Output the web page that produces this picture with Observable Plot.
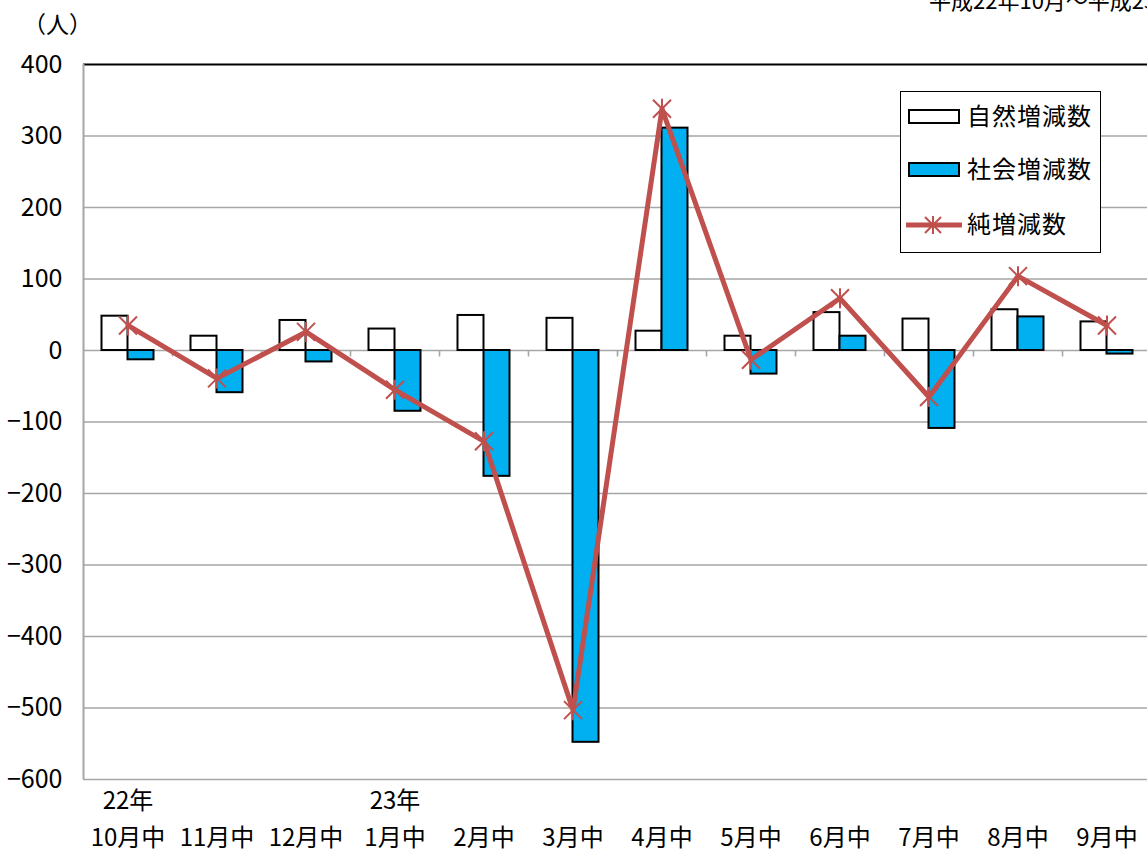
<!DOCTYPE html>
<html><head><meta charset="utf-8">
<script src="https://cdn.jsdelivr.net/npm/d3@7"></script>
<script src="https://cdn.jsdelivr.net/npm/@observablehq/plot@0.6"></script>
<style>
html,body{margin:0;padding:0;background:#fff;overflow:hidden;}
#wrap{position:relative;width:1147px;height:858px;font-family:"Liberation Sans Narrow","Noto Sans CJK JP",sans-serif;}
.abs{position:absolute;white-space:nowrap;color:#000;}
#legend{position:absolute;left:900px;top:91px;width:201px;height:162px;border:1.5px solid #000;background:#fff;box-sizing:border-box;}
.li{position:absolute;left:0;width:199px;height:26px;font-size:24px;line-height:24px;white-space:nowrap;}
</style></head><body>
<div id="wrap">
<div id="chart"></div>
<div class="abs" style="left:23px;top:6px;font-size:23px;font-family:'Noto Sans CJK JP';">（人）</div>
<div class="abs" style="left:929px;top:-17px;font-size:22px;">平成22年10月〜平成23年9月</div>
<div id="legend"></div>
</div>
<script>
const months = ["10月中","11月中","12月中","1月中","2月中","3月中","4月中","5月中","6月中","7月中","8月中","9月中"];
const years = ["22年","","","23年","","","","","","","",""];
const natural = [48,20,42,30,49,45,27,20,53,44,57,40];
const social = [-13,-59,-16,-85,-176,-548,311,-33,20,-109,47,-5];
const net = [35,-39,26,-55,-127,-503,338,-13,73,-65,104,35];
const yTicks = [400,300,200,100,0,-100,-200,-300,-400,-500,-600];
const gridTicks = [300,200,100,0,-100,-200,-300,-400,-500,-600];
const seriesNames = ["自然増減数","社会増減数","純増減数"];
const colors = {natural:"#ffffff", social:"#00B0F0", net:"#C0504D"};

const data = months.map((m,i)=>({month:m, year:years[i], natural:natural[i], social:social[i], net:net[i]}));

const star = {draw(ctx, size){
  const r = Math.sqrt(size/Math.PI);
  const a = r*0.9;
  ctx.moveTo(-a,-a); ctx.lineTo(a,a);
  ctx.moveTo(-a,a); ctx.lineTo(a,-a);
  ctx.moveTo(0,-r); ctx.lineTo(0,r);
}};

const chart = Plot.plot({
  width:1147, height:858,
  marginLeft:83, marginRight:0, marginTop:64, marginBottom:79,
  style:{fontFamily:'"Liberation Sans Narrow","Noto Sans CJK JP",sans-serif', fontSize:"24px", color:"#000", background:"#fff"},
  x:{type:"band", domain:months, range:[83,1151], padding:0, axis:null},
  y:{domain:[-600,400], axis:null},
  marks:[
    Plot.ruleY(gridTicks, {stroke:"#a6a6a6", strokeWidth:1.6}),
    Plot.ruleY([400], {stroke:"#000", strokeWidth:2}),
    Plot.ruleX(months.slice(1), {x:d=>d, dx:-44.5, y1:0, y2:-9, stroke:"#a6a6a6", strokeWidth:1.6}),
    Plot.ruleX([months[0]], {x:d=>d, dx:-44.5, y1:-600, y2:400, stroke:"#a6a6a6", strokeWidth:2}),
    Plot.axisY({ticks:yTicks, tickSize:0, tickPadding:21, fontSize:25, label:null, anchor:"left"}),
    Plot.barY(data, {x:"month", y:"natural", insetLeft:18.5, insetRight:44.5, fill:colors.natural, stroke:"#000", strokeWidth:2}),
    Plot.barY(data, {x:"month", y:"social", insetLeft:44.5, insetRight:18.5, fill:colors.social, stroke:"#000", strokeWidth:2}),
    Plot.line(data, {x:"month", y:"net", stroke:colors.net, strokeWidth:5}),
    Plot.dot(data, {x:"month", y:"net", symbol:star, r:10, stroke:colors.net, strokeWidth:2, fill:"none"}),
    Plot.text(data, {x:"month", text:"year", frameAnchor:"bottom", dy:29, fontSize:24}),
    Plot.text(data, {x:"month", text:"month", frameAnchor:"bottom", dy:66, fontSize:24, letterSpacing:"1px"})
  ]
});
document.getElementById("chart").appendChild(chart);

// legend
const lg = document.getElementById("legend");
const items = [
  {name:seriesNames[0], sw:'<svg width="56" height="20"><rect x="3" y="3" width="50" height="13" fill="#fff" stroke="#000" stroke-width="2"/></svg>', top:13},
  {name:seriesNames[1], sw:'<svg width="56" height="20"><rect x="3" y="3" width="50" height="13" fill="#00B0F0" stroke="#000" stroke-width="2"/></svg>', top:66},
  {name:seriesNames[2], sw:'<svg width="56" height="20"><line x1="1" y1="10" x2="55" y2="10" stroke="#C0504D" stroke-width="5" stroke-linecap="round"/><g stroke="#C0504D" stroke-width="2"><line x1="19" y1="2" x2="35" y2="18"/><line x1="19" y1="18" x2="35" y2="2"/><line x1="27" y1="1" x2="27" y2="19"/></g></svg>', top:121}
];
items.forEach(it=>{
  const d = document.createElement("div");
  d.className = "li";
  d.style.top = it.top + "px";
  d.innerHTML = `<span style="position:absolute;left:5px;top:2px;line-height:0;">${it.sw}</span><span style="position:absolute;left:66px;top:-2px;font-family:'Noto Sans CJK JP';letter-spacing:1px;">${it.name}</span>`;
  lg.appendChild(d);
});
</script>
</body></html>
